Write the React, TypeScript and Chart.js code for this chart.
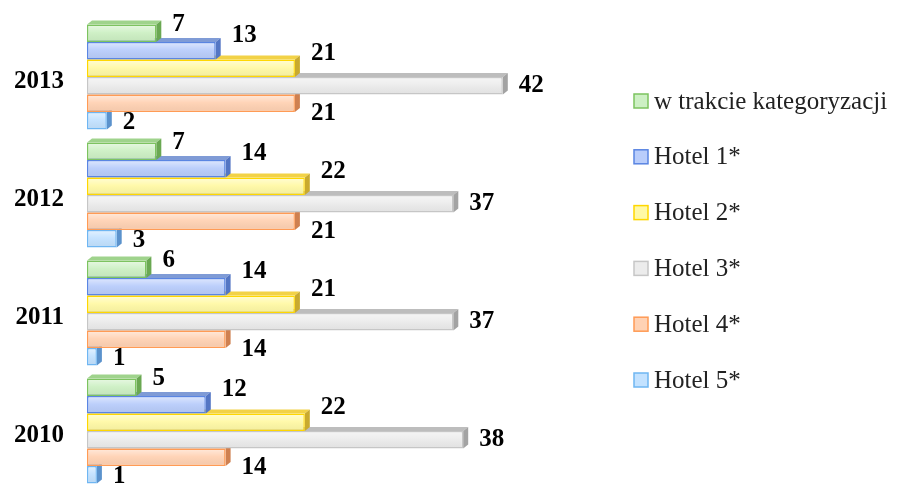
import React, { useEffect, useRef } from 'react';
import { Chart, registerables } from 'chart.js';

Chart.register(...registerables);

const years = ['2013', '2012', '2011', '2010'];
const seriesNames = ['w trakcie kategoryzacji', 'Hotel 1*', 'Hotel 2*', 'Hotel 3*', 'Hotel 4*', 'Hotel 5*'];
const inCategorization = [7, 7, 6, 5];
const hotel1 = [13, 14, 14, 12];
const hotel2 = [21, 22, 21, 22];
const hotel3 = [42, 37, 37, 38];
const hotel4 = [21, 21, 14, 14];
const hotel5 = [2, 3, 1, 1];
const seriesValues = [inCategorization, hotel1, hotel2, hotel3, hotel4, hotel5];

const styles = [
  { fill: '#cdf0c4', border: '#7cc35f', top: '#9fd38c', side: '#6aa852' },
  { fill: '#b9cdfb', border: '#5a85e2', top: '#7f9bd6', side: '#5476c4' },
  { fill: '#fff9a6', border: '#ffd700', top: '#f2d247', side: '#c9aa2e' },
  { fill: '#ececec', border: '#c6c6c6', top: '#bdbdbd', side: '#a3a3a3' },
  { fill: '#ffd2b4', border: '#ff9b55', top: '#e8955f', side: '#cf8050' },
  { fill: '#c3e2ff', border: '#6fb6f2', top: '#86b6e6', side: '#5b92cc' },
];
const labelDy = [-8.5, -15, -15, 0, 10, 2];
const DX = 5;
const DY = -4;
const SERIF = '"Liberation Serif", "Times New Roman", serif';

const bar3dPlugin = {
  id: 'bar3d',
  beforeDatasetDraw(chart: any, args: any) {
    const i = args.index;
    const st = styles[i];
    const ctx = chart.ctx;
    ctx.save();
    args.meta.data.forEach((bar: any) => {
      const { x, y, base, height } = bar.getProps(['x', 'y', 'base', 'height'], true);
      const top = y - height / 2;
      const bottom = y + height / 2;
      ctx.beginPath();
      ctx.moveTo(base, top);
      ctx.lineTo(base + DX, top + DY);
      ctx.lineTo(x + DX, top + DY);
      ctx.lineTo(x, top);
      ctx.closePath();
      ctx.fillStyle = st.top;
      ctx.fill();
      ctx.beginPath();
      ctx.moveTo(x, top);
      ctx.lineTo(x + DX, top + DY);
      ctx.lineTo(x + DX, bottom + DY);
      ctx.lineTo(x, bottom);
      ctx.closePath();
      ctx.fillStyle = st.side;
      ctx.fill();
    });
    ctx.restore();
  },
  afterDatasetDraw(chart: any, args: any) {
    const ctx = chart.ctx;
    ctx.save();
    args.meta.data.forEach((bar: any) => {
      const { x, y, base, height } = bar.getProps(['x', 'y', 'base', 'height'], true);
      const top = y - height / 2 + 1.5;
      const h = height - 3;
      const g = ctx.createLinearGradient(0, top, 0, top + h);
      g.addColorStop(0, 'rgba(255,255,255,0.45)');
      g.addColorStop(0.45, 'rgba(255,255,255,0.05)');
      g.addColorStop(1, 'rgba(0,0,0,0.04)');
      ctx.fillStyle = g;
      ctx.fillRect(base + 1.5, top, Math.max(0, x - base - 3), h);
    });
    ctx.restore();
  },
  afterDatasetsDraw(chart: any) {
    const ctx = chart.ctx;
    ctx.save();
    ctx.font = 'bold 25px ' + SERIF;
    ctx.fillStyle = '#000';
    ctx.textAlign = 'left';
    ctx.textBaseline = 'middle';
    chart.data.datasets.forEach((ds: any, i: number) => {
      const meta = chart.getDatasetMeta(i);
      meta.data.forEach((bar: any, j: number) => {
        const { x, y } = bar.getProps(['x', 'y'], true);
        ctx.fillText(String(ds.data[j]), x + 16, y + labelDy[i]);
      });
    });
    ctx.restore();
  },
  afterDraw(chart: any) {
    const ctx = chart.ctx;
    ctx.save();
    const lx = 634;
    const ly0 = 101;
    const step = 55.8;
    ctx.font = '25px ' + SERIF;
    ctx.textAlign = 'left';
    ctx.textBaseline = 'middle';
    chart.data.datasets.forEach((ds: any, i: number) => {
      const cy = ly0 + i * step;
      ctx.fillStyle = styles[i].fill;
      ctx.fillRect(lx, cy - 7, 14, 14);
      ctx.strokeStyle = styles[i].border;
      ctx.lineWidth = 1.5;
      ctx.strokeRect(lx, cy - 7, 14, 14);
      ctx.fillStyle = '#222';
      ctx.fillText(ds.label, 654, cy + 1);
    });
    ctx.restore();
  },
};

export default function App() {
  const canvasRef = useRef<HTMLCanvasElement | null>(null);
  useEffect(() => {
    document.body.style.margin = '0';
    const canvas = canvasRef.current;
    if (!canvas) return;
    const chart = new Chart(canvas, {
      type: 'bar',
      data: {
        labels: years,
        datasets: seriesNames.map((name, i) => ({
          label: name,
          data: seriesValues[i],
          backgroundColor: styles[i].fill,
          borderColor: styles[i].border,
          borderWidth: 1.5,
          borderSkipped: false,
          barPercentage: 1,
          categoryPercentage: 0.89,
        })),
      },
      options: {
        indexAxis: 'y',
        animation: false,
        responsive: true,
        maintainAspectRatio: false,
        layout: { autoPadding: false, padding: { left: 12, right: 318, top: 18, bottom: 0 } },
        scales: {
          x: { type: 'linear', min: 0, max: 50, display: false },
          y: {
            type: 'category',
            grid: { display: false, drawTicks: false },
            border: { display: false },
            ticks: {
              font: { family: SERIF, size: 25, weight: 'bold' },
              color: '#000',
              padding: 23,
              labelOffset: 5,
            },
            afterFit: (scale: any) => {
              scale.width = 75;
              scale.paddingTop = 0;
              scale.paddingBottom = 0;
            },
          },
        },
        plugins: {
          legend: { display: false },
          tooltip: { enabled: false },
        },
      },
      plugins: [bar3dPlugin],
    } as any);
    return () => chart.destroy();
  }, []);
  return (
    <div style={{ position: 'relative', width: 900, height: 490, background: '#fff' }}>
      <canvas ref={canvasRef} />
    </div>
  );
}
